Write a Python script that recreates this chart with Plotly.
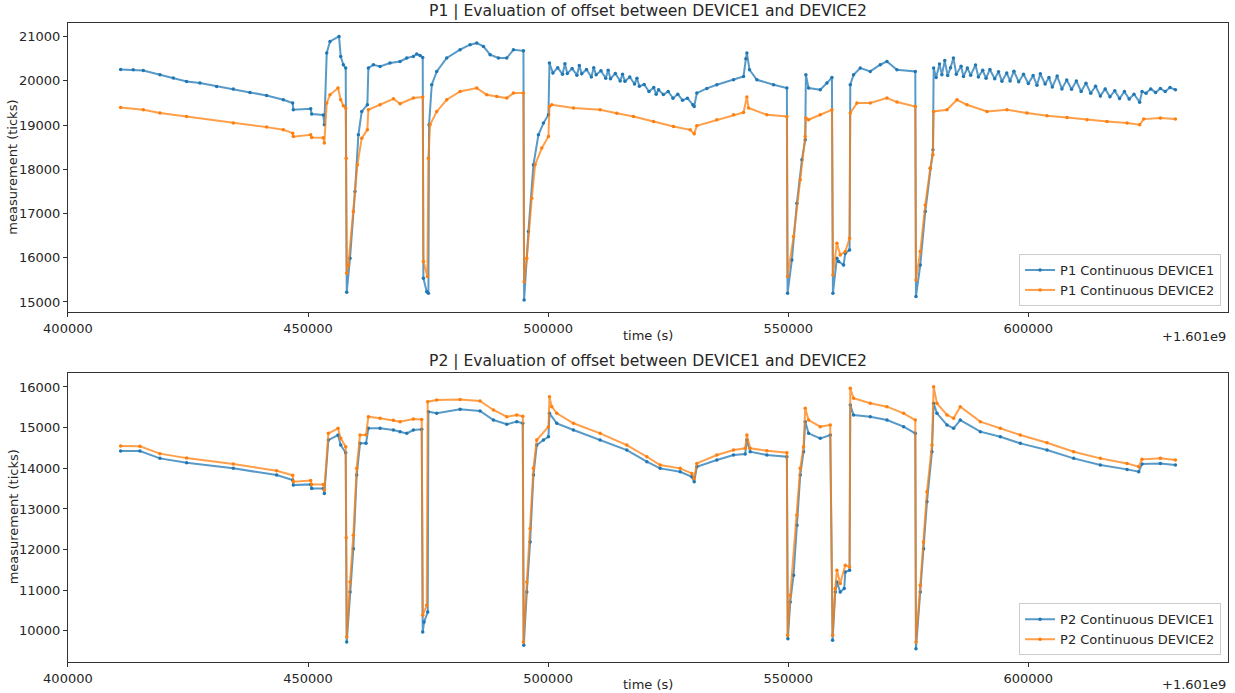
import plotly.graph_objects as go

# ---------------- data (time offsets in s, relative to 1.601e9) ----------------
X_TICKS = [400000, 450000, 500000, 550000, 600000]
X_TICK_TEXT = ["400000", "450000", "500000", "550000", "600000"]
P1_Y_TICKS = [15000, 16000, 17000, 18000, 19000, 20000, 21000]
P2_Y_TICKS = [10000, 11000, 12000, 13000, 14000, 15000, 16000]

p1_d1_t = [410980, 413600, 415700, 419170, 421940, 424720, 427500, 430970, 434440, 437920,
           441390, 444860, 446810, 446940, 450560, 450770, 453190, 453400, 453900, 454580,
           456460, 456810, 457360, 457850, 458060, 458750, 459790, 460490, 461190, 462360,
           462570, 463610, 465000, 467080, 469170, 470560, 471940, 472640, 473330, 473890,
           474030, 474720, 475070, 475210, 475770, 476810, 478890, 481670, 483750, 485140,
           486530, 487920, 489650, 491390, 492780, 494860, 495000, 495900, 496940, 497980,
           499030, 500070,
           500280, 501000, 502000, 503000, 503500, 504000, 505000, 506000, 506500, 507000,
           508000, 509000, 509500, 510000, 511000, 512000, 512500, 513000, 514000, 515000,
           515500, 516000, 517000, 518000, 518500, 519000, 520000, 521000, 522000, 522500,
           523000, 524000, 525000, 526000, 527000, 528000, 529000, 530140,
           530420, 530970,
           533060, 535140, 538610, 540690, 541180, 541390, 541940, 543470, 546940, 549720,
           549860, 550760, 551810, 552850, 553540, 553680, 554240, 556670, 558060, 559100,
           559310, 560140, 560490, 561530, 561880, 562780, 562920, 563610, 565000, 567080,
           569170, 570560, 572640, 576460, 576600, 577500, 578540, 579580, 580140,
           580280, 580800, 581500, 582000, 582600, 583200, 583800, 584400, 585000, 586000,
           586500, 587300, 588000, 589000, 589600, 590500, 591200, 592000, 593000, 593800,
           594500, 595500, 596200, 597000, 598000, 599000, 600000, 601000, 601800, 602500,
           603500, 604300, 605000, 606000, 607000, 608000, 609000, 610000, 611000, 612000,
           613000, 614000, 615000, 616000, 617000, 618000, 619000, 620000, 621000, 622000,
           623190, 623680, 624500, 625500, 626500, 627500, 628500, 629500, 630630]
p1_d1_v = [20260, 20250, 20237, 20140, 20065, 19988, 19951, 19875, 19816, 19740,
           19672, 19574, 19499, 19347, 19370, 19250, 19230, 19008, 20631, 20894,
           21007, 20555, 20366, 20291, 15220, 15990, 17498, 18781, 19309, 19460,
           20291, 20366, 20328, 20404, 20441, 20518, 20555, 20608, 20577, 20532,
           15537, 15234, 15200, 19008, 19913, 20215, 20518, 20706, 20819, 20857,
           20781, 20592, 20518, 20518, 20706, 20680, 15046, 16592, 18102, 18781,
           19046, 19234,
           20404, 20180, 20300, 20150, 20390, 20170, 20280, 20130, 20350, 20160,
           20260, 20090, 20300, 20140, 20230, 20060, 20240, 20050, 20170, 20000,
           20150, 19990, 20090, 19930, 20060, 19880, 19920, 19760, 19850, 19700,
           19800, 19690, 19760, 19610, 19700, 19560, 19610, 19460,
           19422, 19725,
           19830, 19913, 20026, 20101, 20500, 20631, 20253, 20026, 19913, 19838,
           15197, 15951, 17235, 18215, 18668, 20140, 19838, 19800, 19951, 20079,
           15197, 15990, 15913, 15838, 16103, 16178, 19913, 20140, 20291, 20215,
           20366, 20441, 20253, 20215, 15121, 15838, 17045, 18027, 18442,
           20291, 20080, 20380, 20140, 20460, 20120, 20300, 20520, 20150, 20330,
           20100, 20290, 20130, 20360, 20090, 20240, 20060, 20260, 20050, 20210,
           19990, 20180, 20000, 20220, 19980, 20150, 19940, 20120, 19900, 20160,
           19930, 20080, 19860, 20110, 19820, 20020, 19810, 20000, 19760, 19950,
           19720, 19880, 19660, 19820, 19640, 19780, 19600, 19760, 19590, 19700,
           19520, 19762, 19720, 19820, 19740, 19830, 19760, 19850, 19800]

p1_d2_t = [410980, 415700, 419170, 424720, 434440, 441390, 444860, 446810, 446940, 450560,
           450770, 453190, 453400, 453900, 454580, 456250, 456810, 457360, 457850, 457950,
           458060, 458400, 459440, 460280, 461190, 462360, 462570, 465000, 467780, 469170,
           471940, 473890, 474030, 474860, 475070, 475420, 476810, 478890, 481670, 485140,
           487220, 489310, 491390, 492780, 494860, 495000, 495560, 496600, 497290, 498680,
           500070, 500280, 500760, 505280, 510830, 514310, 517780, 521940, 526110, 529580,
           530420, 530970, 535140, 538610, 540690, 541390, 541740, 545560, 549720, 549860,
           551110, 552500, 553540, 553680, 554240, 556670, 559100, 559310, 560140, 560830,
           561880, 562780, 562920, 564310, 567080, 570560, 572640, 576460, 576600, 577500,
           578540, 579580, 580140, 580280, 583060, 585140, 587220, 591390, 595560, 599720,
           603890, 608060, 612220, 616390, 620560, 623190, 624030, 627500, 630630]
p1_d2_v = [19400, 19347, 19273, 19196, 19046, 18955, 18894, 18819, 18740, 18781,
           18721, 18715, 18594, 19499, 19687, 19838, 19574, 19438, 19386, 18250,
           15650, 15838, 17045, 18102, 18706, 18894, 19347, 19460, 19596, 19483,
           19612, 19635, 15913, 15574, 18253, 19008, 19309, 19574, 19762, 19838,
           19687, 19650, 19612, 19725, 19725, 15460, 15990, 17348, 18102, 18480,
           18743, 19422, 19460, 19386, 19347, 19270, 19196, 19083, 18970, 18894,
           18804, 18985, 19121, 19234, 19286, 19635, 19386, 19234, 19196, 15574,
           16479, 17762, 18743, 19159, 19121, 19234, 19347, 15612, 16329, 16065,
           16140, 16442, 19273, 19499, 19499, 19612, 19521, 19422, 15498, 16140,
           17196, 18027, 18329, 19309, 19347, 19574, 19460, 19309, 19347, 19273,
           19211, 19173, 19121, 19083, 19046, 19008, 19136, 19159, 19136]

p2_d1_t = [410980, 415000, 419170, 424720, 434440, 443470, 446810, 446940, 450560, 450770,
           453190, 453400, 454240, 456250, 456810, 457850, 458060, 458750, 459440, 460140,
           460830, 462080, 462570, 465000, 467780, 469170, 470560, 471940, 473680, 473890,
           474170, 474930, 475070, 476810, 481670, 485830, 488610, 491390, 493470, 494720,
           494930, 495560, 496250, 496940, 497640, 499030, 500070, 500280, 501810, 505280,
           510830, 516390, 520560, 523330, 527500, 529930, 530420, 530970, 535140, 538610,
           541040, 541390, 542080, 545560, 549720, 549930, 550420, 551110, 551810, 552500,
           553190, 553540, 554240, 556670, 558750, 559240, 559790, 560140, 560830, 561670,
           561880, 562780, 562920, 563610, 567080, 570560, 574030, 576460, 576600, 577500,
           578190, 578890, 579930, 580280, 580970, 583060, 584440, 585830, 590000, 594170,
           598330, 603890, 609440, 615000, 620560, 622990, 623680, 627500, 630630]
p2_d1_v = [14424, 14424, 14244, 14136, 13998, 13833, 13709, 13586, 13604, 13505,
           13505, 13382, 14695, 14818, 14571, 14382, 9727, 10958, 12022, 13833,
           14613, 14613, 14982, 14982, 14940, 14900, 14859, 14941, 14960, 9973,
           10219, 10465, 15392, 15352, 15450, 15409, 15187, 15081, 15147, 15106,
           9646, 10958, 12190, 13833, 14571, 14695, 14776, 15352, 15106, 14941,
           14695, 14448, 14161, 13998, 13915, 13792, 13668, 14037, 14202, 14325,
           14350, 14695, 14407, 14325, 14284, 9810, 10712, 11369, 12601, 13833,
           14407, 15147, 14859, 14736, 14818, 9769, 10958, 11205, 10958, 11041,
           11451, 11492, 15557, 15310, 15269, 15187, 15023, 14859, 9564, 10958,
           12022, 13175, 14407, 15598, 15352, 15064, 14982, 15187, 14900, 14776,
           14613, 14448, 14244, 14079, 13973, 13915, 14103, 14120, 14079]

p2_d2_t = [410980, 415000, 419170, 424720, 434440, 443470, 446810, 446940, 450560, 450770,
           453190, 453400, 454240, 456250, 456810, 457850, 457950, 458060, 458750, 459440,
           460140, 460830, 462080, 462570, 465000, 467780, 469170, 471940, 473680, 473890,
           474720, 474930, 476810, 481670, 485830, 488610, 491390, 493470, 494720, 494860,
           495560, 496250, 496940, 497640, 500070, 500280, 500760, 501810, 505280, 510830,
           516390, 520560, 523330, 527500, 529930, 530420, 530970, 535140, 538610, 541040,
           541390, 542080, 545560, 549720, 549860, 550420, 551810, 552500, 553190, 553540,
           554240, 556670, 558750, 559240, 559790, 560140, 560830, 561880, 562780, 562920,
           563610, 567080, 570560, 574030, 576460, 576600, 577500, 578190, 578890, 579930,
           580280, 580970, 583060, 584440, 585830, 590000, 594170, 598330, 603890, 609440,
           615000, 620560, 622990, 623680, 627500, 630630]
p2_d2_v = [14547, 14540, 14360, 14250, 14103, 13939, 13830, 13668, 13700, 13604,
           13600, 13463, 14859, 14982, 14736, 14530, 12290, 9850, 11205, 12355,
           13998, 14818, 14818, 15269, 15230, 15180, 15147, 15212, 15200, 10384,
           10631, 15638, 15680, 15690, 15655, 15434, 15269, 15310, 15280, 9727,
           11205, 12520, 13998, 14695, 15023, 15761, 15515, 15352, 15106, 14859,
           14571, 14284, 14079, 13998, 13874, 13751, 14120, 14325, 14448, 14490,
           14818, 14490, 14432, 14382, 9892, 10877, 12848, 13998, 14530, 15475,
           15187, 15023, 15064, 9892, 11041, 11492, 11164, 11615, 11574, 15968,
           15722, 15598, 15515, 15352, 15187, 9727, 11123, 12190, 13422, 14571,
           16008, 15598, 15310, 15229, 15515, 15147, 14982, 14818, 14628, 14407,
           14244, 14120, 14037, 14219, 14244, 14202]

# ---------------- style ----------------
BLUE = "#1f77b4"
ORANGE = "#ff7f0e"
BLUE_LINE = "rgba(31,119,180,0.75)"
ORANGE_LINE = "rgba(255,127,14,0.75)"
FONT = "DejaVu Sans"
TXT = "#262626"

fig = go.Figure()


def add(t, v, name, line_col, mcol, xa, ya, legend):
    fig.add_trace(go.Scatter(
        x=t, y=v, name=name, mode="lines+markers",
        line=dict(color=line_col, width=2),
        marker=dict(color=mcol, size=3.5),
        xaxis=xa, yaxis=ya, legend=legend))


add(p1_d1_t, p1_d1_v, "P1 Continuous DEVICE1", BLUE_LINE, BLUE, "x", "y", "legend")
add(p1_d2_t, p1_d2_v, "P1 Continuous DEVICE2", ORANGE_LINE, ORANGE, "x", "y", "legend")
add(p2_d1_t, p2_d1_v, "P2 Continuous DEVICE1", BLUE_LINE, BLUE, "x2", "y2", "legend2")
add(p2_d2_t, p2_d2_v, "P2 Continuous DEVICE2", ORANGE_LINE, ORANGE, "x2", "y2", "legend2")

axis_common = dict(showline=True, linecolor="#333333", linewidth=1, mirror=True,
                   ticks="outside", ticklen=4, tickcolor="#333333", tickwidth=1,
                   showgrid=False, zeroline=False, automargin=False,
                   tickfont=dict(family=FONT, size=13, color=TXT))

TOP_DOM = [0.5473, 1.0]
BOT_DOM = [0.0, 0.4527]
X_RANGE = [400020, 641580]

legend_common = dict(xanchor="right", yanchor="bottom",
                     bgcolor="rgba(255,255,255,0.85)", bordercolor="#cccccc", borderwidth=1,
                     font=dict(family=FONT, size=13, color=TXT), tracegroupgap=0,
                     itemwidth=30)

fig.update_layout(
    width=1235, height=693,
    margin=dict(l=68, r=7, t=23, b=31, autoexpand=False),
    paper_bgcolor="white", plot_bgcolor="white",
    font=dict(family=FONT, size=13, color=TXT),
    showlegend=True,
    xaxis=dict(axis_common, domain=[0, 1], anchor="y", range=X_RANGE,
               tickvals=X_TICKS, ticktext=X_TICK_TEXT),
    yaxis=dict(axis_common, domain=TOP_DOM, anchor="x", range=[14767, 21310],
               tickvals=P1_Y_TICKS, ticktext=[str(v) for v in P1_Y_TICKS]),
    xaxis2=dict(axis_common, domain=[0, 1], anchor="y2", range=X_RANGE,
                tickvals=X_TICKS, ticktext=X_TICK_TEXT),
    yaxis2=dict(axis_common, domain=BOT_DOM, anchor="x2", range=[9236, 16350],
                tickvals=P2_Y_TICKS, ticktext=[str(v) for v in P2_Y_TICKS]),
    legend=dict(legend_common, x=0.994, y=0.557),
    legend2=dict(legend_common, x=0.994, y=0.0105),
)


def txt(text, x, y, xanchor, yanchor, xshift=0, yshift=0, size=13, angle=0):
    return dict(text=text, x=x, y=y, xref="paper", yref="paper", xanchor=xanchor,
                yanchor=yanchor, xshift=xshift, yshift=yshift, showarrow=False,
                textangle=angle, font=dict(family=FONT, size=size, color=TXT))


annots = [
    txt("P1 | Evaluation of offset between DEVICE1 and DEVICE2", 0.5, 1.0,
        "center", "bottom", yshift=1, size=15.6),
    txt("P2 | Evaluation of offset between DEVICE1 and DEVICE2", 0.5, BOT_DOM[1],
        "center", "bottom", yshift=1, size=15.6),
    txt("time (s)", 0.5, TOP_DOM[0], "center", "middle", yshift=-23),
    txt("time (s)", 0.5, BOT_DOM[0], "center", "middle", yshift=-22),
    txt("+1.601e9", 1.0, TOP_DOM[0], "right", "middle", yshift=-24),
    txt("+1.601e9", 1.0, BOT_DOM[0], "right", "middle", yshift=-22),
    txt("measurement (ticks)", 0.0, (TOP_DOM[0] + TOP_DOM[1]) / 2, "center", "middle",
        xshift=-55, angle=-90),
    txt("measurement (ticks)", 0.0, (BOT_DOM[0] + BOT_DOM[1]) / 2, "center", "middle",
        xshift=-55, angle=-90),
]
fig.update_layout(annotations=annots)

# remove the browser's default 8 px body margin so the figure fills the window
fig.write_html("out.html",
               config={"displayModeBar": False},
               post_script="document.body.style.margin='0';document.body.style.padding='0';"
                           "document.body.style.overflow='hidden';")
